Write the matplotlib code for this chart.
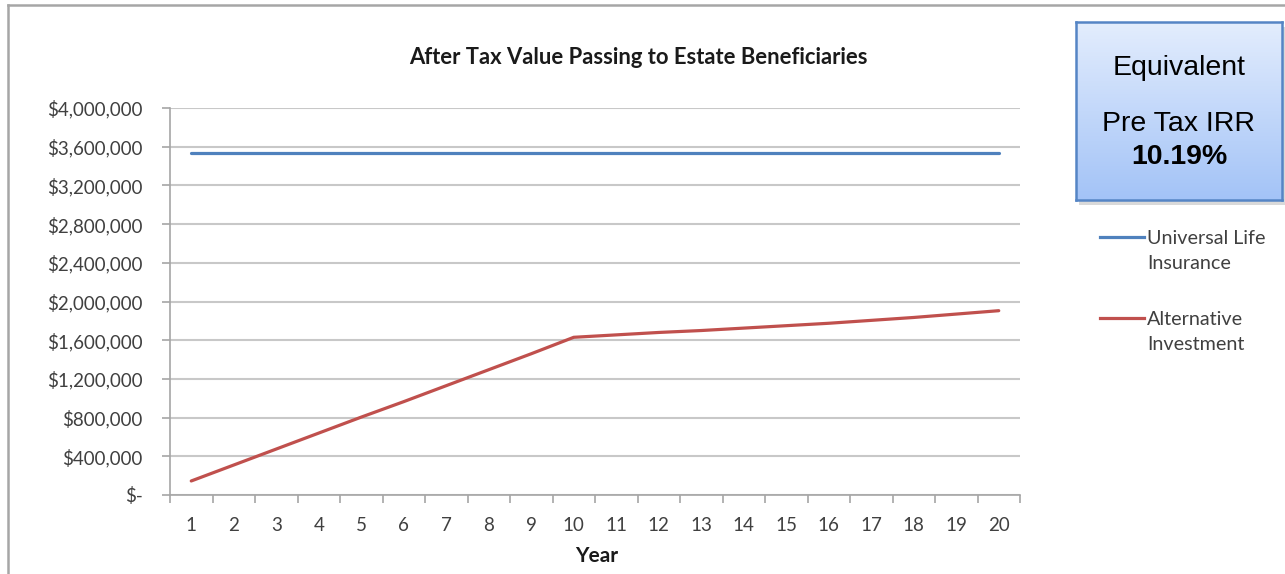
import matplotlib.pyplot as plt
from matplotlib.lines import Line2D
from matplotlib.patches import Rectangle
from matplotlib.ticker import FuncFormatter, FixedLocator
import numpy as np

years = list(range(1, 21))
universal_life = [3540000] * 20
alternative = [145000, 310000, 475000, 640000, 805000, 965000, 1130000, 1295000, 1460000, 1630000,
               1655000, 1680000, 1700000, 1725000, 1750000, 1775000, 1805000, 1835000, 1870000, 1905000]
series_names = ['Universal Life\nInsurance', 'Alternative\nInvestment']
series_colors = ['#4F81BD', '#C0504D']
title = 'After Tax Value Passing to Estate Beneficiaries'
irr_text = '10.19%'

W, H = 1285, 574
fig = plt.figure(figsize=(W / 100, H / 100), dpi=100)
plt.rcParams['font.family'] = ['Lato', 'DejaVu Sans']

def fx(px):
    return px / W

def fy(py):
    return 1 - py / H

# outer chart frame (top and left edges visible)
fig.add_artist(Line2D([fx(8), 1.0], [fy(5), fy(5)], color='#A6A6A6', lw=1.8, transform=fig.transFigure))
fig.add_artist(Line2D([fx(8), fx(8)], [fy(5), 0], color='#A6A6A6', lw=1.8, transform=fig.transFigure))

ax = fig.add_axes([fx(170), fy(495), fx(1020) - fx(170), fy(108) - fy(495)])
ax.plot(years, universal_life, color=series_colors[0], lw=2.3, solid_capstyle='round')
ax.plot(years, alternative, color=series_colors[1], lw=2.3, solid_capstyle='round')

ax.set_xlim(0.5, 20.5)
ax.set_ylim(0, 4000000)
ax.yaxis.set_major_locator(FixedLocator(np.arange(0, 4000001, 400000)))
ax.yaxis.set_major_formatter(FuncFormatter(lambda v, p: '$-' if v == 0 else f'${v:,.0f}'))
ax.grid(axis='y', color='#C8C8C8', lw=1.5)
ax.set_axisbelow(True)

# category ticks between years, labels centred on years
ax.xaxis.set_major_locator(FixedLocator(np.arange(0.5, 21, 1)))
ax.xaxis.set_major_formatter(FuncFormatter(lambda v, p: ''))
ax.xaxis.set_minor_locator(FixedLocator(years))
ax.xaxis.set_minor_formatter(FuncFormatter(lambda v, p: f'{int(v)}'))
ax.tick_params(axis='x', which='major', length=6, width=1.2, color='#A6A6A6', direction='out')
ax.tick_params(axis='x', which='minor', length=0, pad=16, labelsize=13.5, labelcolor='#404040')
ax.tick_params(axis='y', length=6, width=1.2, color='#A6A6A6', pad=13.5, labelsize=13.5, labelcolor='#404040')

for s in ['top', 'right']:
    ax.spines[s].set_visible(False)
for s in ['left', 'bottom']:
    ax.spines[s].set_color('#A6A6A6')
    ax.spines[s].set_linewidth(1.2)

fig.text(fx(638), fy(57), title, ha='center', va='center', fontsize=15.8, fontweight='bold', color='#1A1A1A')
fig.text(fx(597), fy(556), 'Year', ha='center', va='center', fontsize=15, fontweight='bold', color='#1A1A1A')

# legend, handle aligned with first text line like Excel
leg_rows = [237, 318]
for name, color, row in zip(series_names, series_colors, leg_rows):
    fig.add_artist(Line2D([fx(1100), fx(1144)], [fy(row), fy(row)], color=color, lw=2.3,
                          transform=fig.transFigure))
    fig.text(fx(1147), fy(row - 7), name, ha='left', va='top', fontsize=14.2, color='#404040',
             linespacing=1.6)

# IRR box with gradient and shadow
bx0, bx1, by0, by1 = 1076, 1282, 22, 200
shadow = Rectangle((fx(bx0 + 3), fy(by1 + 5)), fx(bx1) - fx(bx0), fy(by0) - fy(by1),
                   transform=fig.transFigure, facecolor='#000000', alpha=0.15, edgecolor='none', zorder=0)
fig.add_artist(shadow)
bax = fig.add_axes([fx(bx0), fy(by1), fx(bx1) - fx(bx0), fy(by0) - fy(by1)])
bax.set_zorder(3)
top_c = np.array([0xE3, 0xED, 0xFD]) / 255
bot_c = np.array([0xA3, 0xC3, 0xF7]) / 255
t = np.linspace(0, 1, 256)[:, None]
grad = (top_c[None, :] * (1 - t) + bot_c[None, :] * t)[:, None, :]
bax.imshow(grad, aspect='auto', extent=[0, 1, 0, 1], origin='upper')
bax.set_xticks([])
bax.set_yticks([])
for s in bax.spines.values():
    s.set_color('#5585C5')
    s.set_linewidth(1.8)
box_font = ['Liberation Sans', 'DejaVu Sans']
bax.text(0.5, 0.74, 'Equivalent', ha='center', va='center', fontsize=20.5,
         family=box_font, transform=bax.transAxes)
bax.text(0.5, 0.425, 'Pre Tax IRR', ha='center', va='center', fontsize=20.5,
         family=box_font, transform=bax.transAxes)
bax.text(0.5, 0.24, irr_text, ha='center', va='center', fontsize=20.5, fontweight='bold',
         family=box_font, transform=bax.transAxes)

fig.savefig('out.png', dpi=100)
